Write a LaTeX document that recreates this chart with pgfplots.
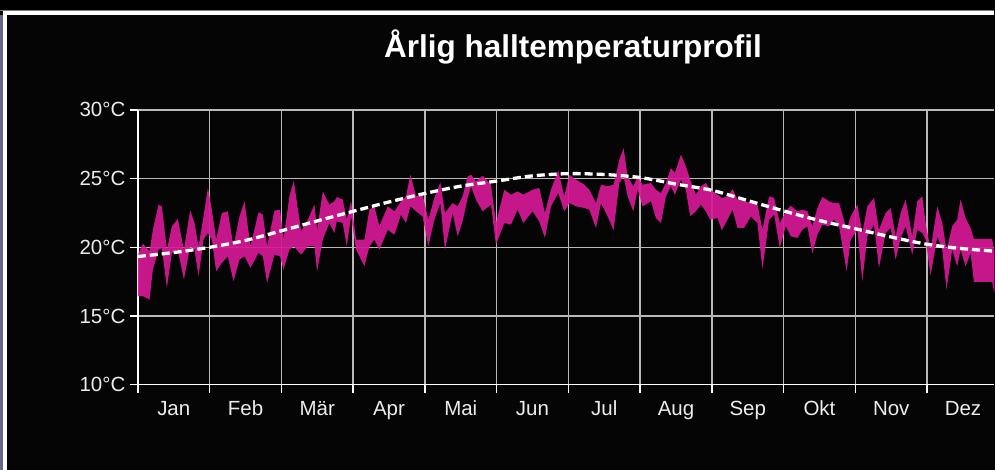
\documentclass[border=0pt]{standalone}
\usepackage{fontspec}
\setmainfont{Liberation Sans}
\usepackage{pgfplots}
\pgfplotsset{compat=1.18}
\usepackage{pgfplotstable}
\usepgfplotslibrary{fillbetween}
\definecolor{band}{RGB}{214,24,150}
\definecolor{bg}{RGB}{5,5,5}
\definecolor{gridc}{RGB}{185,185,185}
\definecolor{lbl}{RGB}{236,236,236}

\pgfplotstableread{
m U L
0.000 19.47 16.44
0.070 20.27 16.44
0.162 19.71 16.19
0.209 21.28 18.38
0.288 23.10 19.83
0.334 22.98 19.95
0.404 19.83 17.04
0.474 21.53 19.59
0.557 22.06 19.83
0.641 19.83 17.65
0.729 22.69 20.07
0.789 21.77 19.83
0.845 20.07 17.89
0.915 22.25 20.56
0.975 24.32 21.04
1.031 22.74 20.56
1.091 20.56 18.25
1.170 22.50 18.86
1.253 22.62 19.35
1.332 20.07 17.53
1.416 22.25 19.10
1.486 23.35 19.35
1.569 20.07 18.50
1.681 22.55 19.59
1.741 22.38 19.35
1.801 20.07 17.41
1.903 22.67 19.47
1.982 22.74 19.35
2.029 20.56 18.38
2.112 23.71 19.83
2.173 24.85 20.07
2.275 21.16 19.47
2.368 22.01 20.07
2.461 23.10 20.07
2.498 21.28 18.25
2.577 24.07 20.56
2.669 23.10 21.77
2.739 23.35 21.04
2.772 23.66 21.89
2.855 23.47 21.77
2.911 22.01 20.07
2.971 23.35 22.25
3.041 20.56 19.83
3.157 20.56 18.62
3.227 22.74 20.07
3.296 22.98 20.56
3.366 21.53 19.83
3.482 22.98 21.28
3.575 22.62 20.92
3.668 23.35 22.38
3.737 23.71 21.77
3.798 25.28 22.98
3.877 23.71 22.62
3.969 23.83 22.25
4.048 22.01 20.07
4.132 23.59 22.01
4.215 24.73 23.22
4.280 22.50 19.83
4.387 23.22 22.50
4.457 22.98 20.80
4.526 23.71 21.89
4.596 25.16 23.59
4.643 25.28 24.44
4.712 24.80 23.47
4.805 25.21 22.62
4.921 24.56 23.10
4.991 21.77 20.19
5.107 24.19 21.77
5.200 23.83 21.65
5.292 24.07 22.74
5.371 23.83 21.77
5.501 24.19 22.62
5.594 24.32 21.89
5.673 22.50 20.68
5.757 24.19 22.98
5.859 25.60 23.95
5.942 23.71 22.62
6.014 25.28 23.22
6.107 24.92 22.98
6.223 24.56 22.86
6.292 24.19 22.74
6.385 23.22 21.41
6.455 24.56 23.22
6.548 24.44 22.25
6.631 24.56 21.24
6.710 26.38 24.68
6.770 27.22 25.16
6.826 25.16 23.71
6.905 24.44 22.62
6.965 25.16 24.19
7.035 24.56 22.98
7.151 24.68 23.35
7.220 24.19 22.13
7.290 23.95 21.77
7.360 24.68 23.71
7.429 25.77 24.44
7.485 25.41 23.83
7.568 26.74 24.92
7.638 25.89 24.19
7.698 24.92 22.25
7.777 23.83 22.62
7.847 24.44 23.10
7.916 24.68 22.62
7.977 24.19 22.01
8.079 23.83 22.13
8.139 23.59 21.24
8.218 23.71 22.01
8.288 24.24 22.74
8.357 23.47 21.41
8.450 23.35 21.41
8.543 23.22 22.25
8.636 23.10 21.77
8.705 21.28 18.42
8.798 23.71 22.01
8.868 23.59 22.38
8.947 21.77 19.95
9.030 22.62 21.53
9.100 23.03 20.80
9.193 22.62 20.68
9.262 22.74 21.28
9.332 22.62 21.53
9.401 21.53 19.54
9.471 22.86 20.92
9.541 23.66 21.65
9.633 23.35 21.53
9.703 23.22 22.01
9.773 23.22 21.53
9.879 21.28 18.25
9.935 22.25 20.56
10.028 23.10 21.28
10.097 21.04 17.53
10.167 22.98 20.80
10.260 23.59 21.65
10.329 21.28 18.50
10.422 22.50 21.04
10.492 22.86 21.41
10.561 20.80 19.10
10.631 22.50 20.68
10.701 23.47 21.53
10.793 20.80 19.47
10.863 23.35 21.28
10.933 23.71 21.04
10.979 21.77 20.56
11.049 19.83 17.94
11.142 22.98 20.80
11.211 21.77 19.83
11.271 19.83 16.92
11.350 21.53 19.83
11.420 22.01 18.62
11.466 23.47 19.83
11.536 22.13 18.62
11.606 21.41 19.59
11.652 20.61 17.48
11.907 20.61 17.48
11.930 19.83 16.80
12.000 19.80 16.80
}\bandtable

\pgfplotstableread{
m T
0 19.33
0.5 19.62
1 20.00
1.5 20.50
2 21.20
2.5 21.92
3 22.62
3.5 23.30
4 23.92
4.5 24.45
5 24.82
5.5 25.20
6 25.36
6.5 25.30
7 25.08
7.5 24.60
8 24.15
8.5 23.40
9 22.65
9.5 21.95
10 21.35
10.5 20.75
11 20.22
11.5 19.90
12 19.70
}\trendtable

\pagecolor{bg}
\begin{document}
\begin{tikzpicture}
\path (0,0) rectangle (995pt,470pt);
\fill[black] (0,459pt) rectangle (995pt,470pt);
\fill[white] (3pt,0) rectangle (7pt,459pt);
\fill[white] (3pt,455pt) rectangle (995pt,459pt);
\fill[gray] (0,459pt) rectangle (995pt,460pt);
\fill[black!80!blue!60] (0,0) rectangle (3pt,455pt);
\begin{axis}[
  at={(138pt,85pt)}, anchor=south west,
  scale only axis, width=857pt, height=275pt,
  xmin=0, xmax=11.936, ymin=10, ymax=30,
  axis lines=left,
  axis line style={white, line width=1.3pt, -},
  xtick={0,...,11}, xticklabels={},
  extra x ticks={0.5,1.5,...,11.5},
  extra x tick labels={Jan,Feb,Mär,Apr,Mai,Jun,Jul,Aug,Sep,Okt,Nov,Dez},
  extra x tick style={grid=none, major tick length=0pt,
     tick label style={anchor=base, yshift=-31pt}},
  ytick={10,15,20,25,30},
  yticklabels={10°C,15°C,20°C,25°C,30°C},
  yticklabel style={anchor=east, xshift=-1pt},
  tick align=outside, major tick length=8pt,
  tick style={white, line width=1.3pt},
  grid=major,
  grid style={gridc, line width=1.5pt},
  every tick label/.append style={font=\fontsize{20.5}{24}\selectfont, text=lbl},
  title={Årlig halltemperaturprofil},
  title style={font=\fontsize{31.5}{38}\selectfont\bfseries, text=white,
     at={(0.5,1)}, anchor=base, yshift=46pt, xshift=7pt},
]
\addplot[draw=none, name path=U] table[x=m, y=U] {\bandtable};
\addplot[draw=none, name path=L] table[x=m, y=L] {\bandtable};
\addplot[band, fill opacity=0.92] fill between[of=U and L];
\addplot[white, line width=3.3pt, dash pattern=on 8pt off 4pt, smooth] table[x=m, y=T] {\trendtable};
\end{axis}
\end{tikzpicture}
\end{document}
